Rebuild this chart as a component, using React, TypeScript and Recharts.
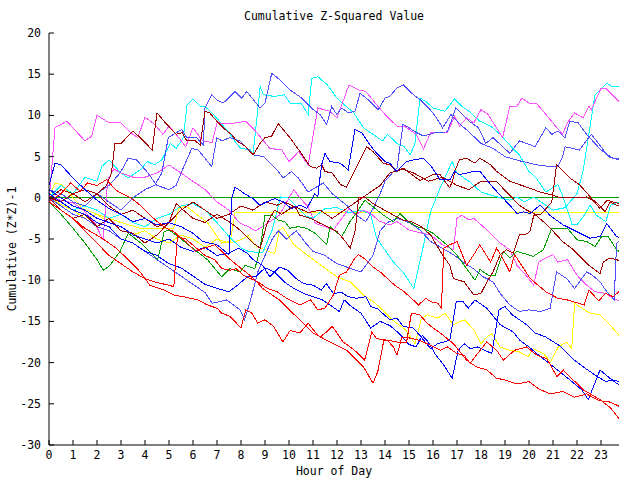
import { LineChart, Line, XAxis, YAxis } from 'recharts';

document.body.style.margin = '0';

type Pt = [number, number];

const hourTicks = [0, 1, 2, 3, 4, 5, 6, 7, 8, 9, 10, 11, 12, 13, 14, 15, 16, 17, 18, 19, 20, 21, 22, 23];
const valueTicks = [-30, -25, -20, -15, -10, -5, 0, 5, 10, 15, 20];

const magA: Pt[] = [[0,-0.5],[0.25,8.5],[0.74,9.3],[1.5,6.9],[1.78,7.5],[2.0,10.0],[2.46,9.2],[3.0,9.1],[3.4,7.9],[3.7,7.3],[4.0,9.8],[4.4,8.9],[4.75,7.7],[5.0,8.7],[5.3,7.7],[5.7,6.2],[6.0,8.5],[6.4,6.9],[6.8,6.7],[7.0,9.1],[7.6,9.0],[8.2,9.3],[8.6,8.1],[9.2,6.0],[9.7,5.8],[10.0,4.4],[10.4,5.6],[10.8,4.0],[11.2,10.9],[11.7,10.5],[12.0,9.7],[12.5,13.7],[12.9,13.1],[13.2,12.9],[13.65,11.3],[14.07,9.9],[14.5,8.7],[14.8,8.7],[15.3,7.7],[15.6,5.9],[15.9,7.9],[16.6,7.9],[16.9,9.9],[17.1,8.7],[17.4,9.7],[17.7,9.1],[18.0,10.7],[18.3,10.1],[18.9,7.3],[19.2,11.1],[19.5,11.1],[19.7,12.1],[20.0,11.5],[20.3,11.5],[21.4,7.7],[21.6,9.1],[21.9,10.3],[22.25,9.7],[22.5,11.1],[22.6,10.7],[23.0,13.3],[23.2,13.3],[23.75,11.7]];

const magB: Pt[] = [[0,0],[0.5,-0.3],[1.0,-0.6],[1.3,-1.2],[1.6,-2.0],[1.9,-3.0],[2.25,-5.1],[2.45,2.2],[2.7,3.5],[3.0,3.0],[3.5,2.5],[4.0,2.5],[4.5,3.0],[5.0,4.0],[5.5,3.0],[6.0,2.0],[6.5,1.0],[7.0,-0.5],[7.5,-1.5],[7.96,-3.1],[8.3,-3.5],[8.6,-4.0],[8.9,-3.5],[9.1,-3.1],[9.6,-2.1],[10.2,1.0],[10.45,0],[10.8,-1.1],[11.1,-3.1],[11.5,-3.5],[11.85,-3.9],[12.1,-2.9],[12.5,-1.3],[12.75,-2.1],[13.1,-1.5],[13.4,-1.9],[13.75,-2.8],[14.2,-3.3],[14.5,-2.9],[15.0,-3.9],[15.4,-4.2],[15.9,-4.5],[16.4,-5.7],[16.85,-6.3],[17.0,-2.5],[17.2,-2.1],[17.5,-2.7],[17.7,-2.5],[18.25,-3.9],[18.8,-5.5],[19.2,-6.3],[19.5,-8.2],[19.9,-9.5],[20.2,-10.6],[20.4,-7.8],[20.7,-7.3],[21.0,-6.9],[21.2,-7.8],[21.6,-7.5],[22.0,-9.4],[22.4,-10.6],[22.75,-11.4],[23.2,-11.6],[23.5,-12.2],[23.75,-12.5]];

const slateA: Pt[] = [[0,1],[0.5,0.5],[1,-0.5],[1.5,-1.0],[2,0.5],[2.5,-0.5],[3,-1.5],[3.5,0],[4,1.0],[4.4,1.5],[4.7,3.0],[4.97,7.3],[5.53,8.3],[5.74,7.3],[6.15,7.3],[6.43,6.4],[6.5,10.9],[6.78,12.5],[6.99,11.9],[7.26,11.5],[7.75,12.9],[8.03,12.1],[8.24,12.9],[8.79,10.9],[9.0,11.5],[9.28,15.1],[9.63,14.3],[10.04,13.1],[10.53,12.1],[11.01,10.7],[11.29,10.1],[11.57,8.9],[11.78,11.1],[11.99,10.1],[12.2,10.9],[12.47,10.3],[12.75,10.5],[12.96,12.7],[13.3,11.9],[13.72,10.7],[14.0,12.1],[14.2,12.3],[14.49,13.3],[14.76,13.7],[15.11,12.7],[15.46,11.9],[15.88,10.7],[16.1,9.9],[16.4,8.5],[16.75,10.1],[17.1,9.0],[17.5,8.0],[18.0,6.6],[18.5,6.0],[19.0,5.0],[19.6,4.5],[20.3,4.0],[20.9,3.8],[21.2,3.8],[21.4,5.0],[21.5,6.2],[21.8,6.0],[22.1,5.8],[22.3,6.6],[22.6,7.7],[23.0,6.2],[23.3,5.0],[23.75,4.6]];

const slateB: Pt[] = [[0,0.5],[0.5,-0.5],[1.0,0.5],[1.5,-0.5],[2.0,0.5],[2.5,1.5],[2.96,3.0],[3.3,4.8],[3.65,4.6],[4.07,3.2],[4.5,1.5],[5.0,1.0],[5.3,1.5],[5.53,3.2],[5.95,6.0],[6.22,5.8],[6.78,3.8],[6.99,7.3],[7.2,6.9],[7.54,7.3],[7.96,6.9],[8.51,5.2],[8.93,5.0],[9.55,3.2],[9.76,2.4],[10.1,3.2],[10.39,2.4],[10.8,0.7],[11.08,1.2],[11.43,1.8],[11.8,0.5],[12.4,-0.9],[12.8,-2.1],[13.2,-2.9],[13.5,-1.3],[13.8,0.5],[14.0,2.0],[14.3,3.0],[14.5,3.6],[14.75,8.9],[14.9,8.7],[15.2,8.1],[15.6,7.5],[16.1,7.9],[16.6,8.0],[16.95,10.9],[17.3,9.9],[17.5,9.3],[17.9,8.5],[18.2,6.6],[18.5,7.3],[19.2,5.4],[19.6,6.9],[19.9,6.6],[20.25,6.2],[20.7,8.5],[20.95,7.7],[21.2,8.1],[21.5,7.3],[21.7,9.3],[22.05,9.1],[22.4,7.7],[23.0,5.8],[23.5,4.8],[23.75,4.8]];

const slateC: Pt[] = [[0,0],[0.5,-1.0],[1,-2.0],[1.5,-2.5],[2,-3.5],[2.5,-4.0],[3,-5.0],[3.5,-5.5],[4,-6.5],[4.5,-7.5],[5,-8.5],[5.5,-9.5],[6,-10.5],[6.5,-11.5],[6.8,-12.8],[7.4,-12.4],[7.96,-13.6],[8.15,-14.8],[8.4,-12.4],[8.7,-9.0],[9.0,-7.0],[9.3,-5.0],[9.55,-4.0],[9.9,-5.0],[10.3,-4.0],[10.7,-5.5],[11.0,-6.5],[11.5,-7.0],[12.0,-8.0],[12.5,-8.5],[13.0,-9.0],[13.5,-7.0],[13.8,-4.0],[14.1,-3.0],[14.5,-2.5],[15.0,-3.0],[15.46,-3.9],[15.9,-5.3],[16.85,-6.9],[17.25,-7.8],[17.68,-8.6],[18.1,-9.6],[18.5,-10.2],[18.8,-11.6],[19.2,-13.0],[19.6,-13.8],[20.0,-13.6],[20.5,-13.8],[20.88,-13.4],[21.15,-9.0],[21.57,-9.8],[21.9,-11.0],[22.4,-9.0],[22.6,-9.3],[22.96,-10.2],[23.24,-11.4],[23.45,-12.0],[23.55,-12.4],[23.65,-5.5],[23.75,-5.3]];

const cyanA: Pt[] = [[0,0],[0.5,1.5],[1,0.5],[1.5,2.5],[2.0,2.0],[2.2,3.8],[2.5,4.6],[3.0,3.0],[3.3,2.4],[3.8,3.4],[4.1,4.4],[4.4,4.0],[4.7,4.6],[5.05,6.6],[5.3,6.0],[5.6,7.3],[5.75,11.3],[6.0,12.0],[6.3,11.1],[6.5,11.1],[6.85,10.1],[7.1,9.3],[7.55,7.7],[7.8,6.6],[8.0,6.0],[8.4,5.8],[8.5,5.2],[8.8,13.5],[8.93,12.5],[9.4,12.3],[9.8,12.5],[10.05,11.5],[10.5,11.5],[10.8,10.1],[10.95,14.5],[11.2,14.7],[11.6,13.7],[12.0,12.1],[12.3,11.3],[12.7,10.3],[13.1,8.5],[13.5,7.7],[13.9,6.9],[14.1,7.7],[14.5,6.6],[14.8,6.2],[15.05,5.2],[15.25,6.6],[15.46,12.1],[15.7,11.7],[16.0,10.9],[16.5,10.5],[16.9,12.0],[17.2,11.1],[17.5,10.5],[17.95,9.3],[18.4,8.7],[18.8,7.7],[19.2,6.4],[19.6,5.2],[20.0,3.2],[20.3,2.4],[20.7,0.7],[21.2,1.6],[21.4,0.3],[21.8,-3.3],[22.0,-3.3],[22.3,-2.1],[22.55,-0.9],[22.8,-2.1],[23.2,-2.9],[23.4,-0.9],[23.75,-0.5]];

const cyanB: Pt[] = [[0,0],[0.5,-0.5],[1,-1.5],[1.5,-1],[2,-1.5],[2.5,-2.5],[3,-2],[3.5,-3],[4,-3.5],[4.5,-2.5],[5,-2],[5.5,-1],[6,-0.7],[6.5,-1.5],[7,-3],[7.5,-4.7],[8.0,-6.1],[8.3,-6.5],[8.9,-6.7],[9.3,-3.9],[9.65,0.1],[9.95,0],[10.3,-1.0],[10.7,-2.2],[11.0,-2.5],[11.5,-1.3],[12.0,-1.2],[12.5,-1.8],[13.0,-1.5],[13.4,-2.0],[13.65,-4.9],[14.35,-7.8],[14.75,-9.0],[15.2,-11.0],[15.55,-6.5],[15.9,-1.7],[16.3,1.2],[16.8,4.4],[17.0,3.0],[17.5,2.0],[18.0,0.7],[18.8,0],[19.2,-0.3],[19.5,0.1],[19.8,-0.5],[20.2,0.1],[20.5,-0.5],[21.0,-1.5],[21.5,-1.2],[22.0,0.5],[22.25,3.2],[22.75,12.5],[23.24,13.9],[23.45,13.5],[23.75,13.5]];

const dredA: Pt[] = [[0,0],[0.5,-0.5],[1,0.5],[1.5,1.0],[2,0.5],[2.4,1.5],[2.6,3.0],[2.75,6.6],[3.0,6.6],[3.5,8.1],[3.8,7.3],[4.3,5.8],[4.5,10.3],[4.85,9.1],[5.3,7.7],[5.55,7.9],[5.74,6.9],[6.1,6.9],[6.3,6.4],[6.5,10.5],[6.7,10.3],[6.99,9.3],[7.33,8.3],[7.6,7.7],[7.82,6.9],[8.0,6.6],[8.2,6.2],[8.51,5.2],[8.79,6.6],[9.0,7.3],[9.28,7.5],[9.55,9.0],[10.04,7.3],[10.46,5.6],[10.88,3.8],[11.15,3.6],[11.36,4.0],[11.5,3.2],[11.8,3.0],[12.15,1.6],[12.4,1.3],[12.85,4.0],[13.24,6.2],[13.5,5.6],[13.93,4.2],[14.2,4.0],[14.49,3.2],[14.76,3.6],[15.46,2.1],[16.0,2.8],[16.3,2.8],[16.7,1.2],[16.85,2.4],[16.9,3.2],[17.1,4.6],[17.4,4.8],[17.75,4.2],[17.96,4.8],[18.4,4.0],[18.65,3.2],[19.2,2.0],[19.6,1.6],[20.0,1.2],[20.46,0.7],[21.0,0.3],[21.3,0],[22.4,0.1],[22.8,-0.5],[23.17,-1.7],[23.37,-0.5],[23.65,-0.9],[23.75,-0.9]];

const dredB: Pt[] = [[0,0],[0.5,1.0],[1.0,0.5],[1.5,-0.5],[2,0.5],[2.5,-1.0],[3,-2.0],[3.5,-1.5],[4,-2.5],[4.5,-3.5],[5,-3.0],[5.5,-1.5],[6,-0.5],[6.5,-1.5],[7.0,-2.5],[7.5,-2.0],[8.0,-1.0],[8.5,-1.5],[9.0,-0.5],[9.5,-0.9],[9.8,-0.5],[10.25,-1.1],[10.45,-2.1],[10.9,-2.5],[11.3,-3.1],[11.6,-3.5],[12.0,-4.1],[12.35,-5.3],[12.55,-6.1],[12.75,-4.1],[12.82,-2.3],[12.9,0],[13.2,0],[13.5,-0.7],[13.86,-1.3],[14.35,-2.1],[14.76,-2.7],[15.1,-2.9],[15.5,-3.5],[15.9,-4.5],[16.3,-6.5],[16.7,-8.2],[16.85,-9.8],[17.3,-10.2],[17.7,-11.8],[18.0,-11.6],[18.25,-10.2],[18.5,-9.0],[18.8,-6.9],[19.06,-6.3],[19.35,-6.7],[19.6,-4.5],[19.83,-4.5],[20.04,-4.1],[20.2,-2.1],[20.5,-2.0],[20.95,-0.5],[21.15,4.0],[21.7,2.4],[22.1,1.6],[22.5,0.3],[22.95,-1.3],[23.25,-0.3],[23.5,-0.5],[23.75,-0.7]];

const dredC: Pt[] = [[0,0],[0.5,-1.5],[1,-2.5],[1.5,-2.0],[2,-3.5],[2.5,-2.5],[3,-4.0],[3.5,-4.3],[4,-5.5],[4.5,-4.5],[5,-3.0],[5.3,-0.7],[5.6,-1.5],[6,-2.5],[6.5,-3.0],[7.0,-2.0],[7.5,-2.9],[8.0,-4.0],[8.5,-5.5],[8.8,-6.1],[9.1,-3.0],[9.4,-1.5],[9.7,-2.0],[10.2,-1.0],[10.8,-1.8],[11.3,-1.5],[11.8,-2.5],[12.3,-1.5],[12.8,-0.5],[13.3,0.5],[13.8,1.5],[14.2,3.0],[14.7,3.5],[15.2,3.0],[15.8,2.0],[16.4,2.5],[17.0,1.5],[17.5,1.0],[18.0,2.0],[18.65,2.0],[19.06,0.7],[19.6,-0.9],[19.9,-1.5],[20.2,-1.9],[20.6,-2.9],[20.95,-3.9],[21.4,-5.3],[21.85,-6.3],[22.26,-7.5],[22.5,-8.2],[22.96,-9.2],[23.1,-7.8],[23.37,-7.3],[23.75,-7.6]];

const blueA: Pt[] = [[0,1.5],[0.25,4.2],[0.5,4.0],[0.75,3.2],[1.0,2.4],[1.5,1.0],[2.0,-0.3],[2.5,-1.3],[3.0,-2.0],[3.5,-2.9],[4.0,-2.5],[4.5,-3.3],[5.0,-3.0],[5.5,-3.5],[6.0,-4.3],[6.4,-5.3],[7.0,-5.7],[7.5,-6.9],[7.62,0],[7.75,1.3],[8.15,0.5],[8.5,-0.1],[8.79,-0.9],[9.07,-0.5],[9.4,-0.1],[9.76,-0.5],[10.1,-1.3],[10.46,-0.9],[10.74,-1.3],[11.08,0.5],[11.2,0.1],[11.29,2.4],[11.36,4.0],[11.5,5.4],[11.7,4.4],[12.13,4.2],[12.47,3.4],[12.75,8.3],[13.03,7.9],[13.38,6.4],[13.65,5.4],[14.0,4.4],[14.2,4.2],[14.49,3.2],[14.9,4.4],[15.18,4.6],[15.6,4.8],[15.88,4.0],[16.3,2.2],[16.71,2.2],[16.9,3.2],[17.1,2.8],[17.68,3.2],[17.96,3.2],[18.4,1.6],[18.8,0.3],[19.2,-0.9],[19.5,-1.9],[19.77,-1.7],[20.04,-1.9],[20.46,-0.9],[20.9,-2.2],[21.43,-3.3],[21.85,-3.9],[22.26,-4.5],[22.54,-4.9],[22.96,-4.7],[23.24,-3.1],[23.65,-4.7],[23.75,-4.8]];

const blueB: Pt[] = [[0,1],[0.5,0.0],[1,-1.0],[1.5,-1.5],[2,-2.5],[2.5,-3.0],[3,-3.5],[3.5,-4.5],[4,-5.0],[4.5,-5.5],[5,-5.0],[5.5,-6.0],[6,-6.5],[6.5,-6.0],[7,-7.0],[7.5,-6.7],[7.9,-6.1],[8.25,-6.7],[8.5,-7.5],[8.9,-8.2],[9.2,-9.6],[9.6,-8.4],[9.95,-8.8],[10.3,-9.8],[10.6,-10.4],[11.0,-10.6],[11.35,-11.2],[11.55,-10.4],[11.85,-11.6],[12.2,-11.5],[12.47,-12.0],[12.8,-12.2],[13.2,-12.0],[13.4,-13.2],[13.7,-13.5],[14.2,-14.8],[14.5,-14.6],[14.76,-15.6],[15.18,-15.8],[15.45,-16.7],[15.9,-18.3],[16.2,-17.7],[16.7,-17.3],[16.97,-12.6],[17.25,-12.6],[17.47,-13.4],[17.75,-12.4],[18.24,-13.4],[18.8,-15.4],[19.35,-16.3],[19.62,-17.3],[20.0,-18.1],[20.32,-18.9],[21.02,-20.5],[21.7,-22.1],[22.2,-23.3],[22.47,-24.5],[22.96,-20.9],[23.45,-22.1],[23.75,-22.7]];

const blueC: Pt[] = [[0,0.5],[0.5,-0.5],[1,-1.5],[1.5,-2.0],[2,-3.0],[2.5,-3.5],[3,-5.0],[3.5,-5.5],[4,-6.5],[4.5,-7.0],[5,-8.0],[5.5,-8.5],[6,-9.5],[6.5,-10.5],[7.0,-11.0],[7.5,-11.4],[7.9,-10.5],[8.3,-9.5],[8.6,-9.6],[9.0,-8.5],[9.4,-9.0],[9.8,-10.2],[10.2,-11.0],[10.6,-11.6],[11.0,-12.0],[11.4,-12.4],[11.7,-13.0],[12.1,-13.8],[12.3,-12.4],[12.6,-13.2],[13.0,-14.0],[13.4,-15.8],[13.8,-15.0],[14.2,-15.5],[14.6,-16.5],[15.0,-17.8],[15.3,-18.1],[15.55,-16.7],[15.8,-17.5],[16.1,-19.0],[16.45,-20.3],[16.8,-21.9],[17.05,-18.5],[17.3,-17.7],[17.55,-18.3],[17.85,-18.1],[18.45,-18.9],[18.75,-13.6],[19.0,-13.2],[19.3,-14.2],[19.6,-14.8],[19.9,-15.4],[20.25,-16.4],[20.7,-16.9],[21.3,-18.0],[21.8,-19.5],[22.3,-20.6],[22.8,-21.6],[23.2,-22.3],[23.5,-22.1],[23.75,-22.3]];

const redA: Pt[] = [[0,-0.5],[0.5,0.5],[0.9,1.8],[1.3,0.8],[1.6,1.8],[2.0,1.5],[2.4,2.2],[2.8,0.9],[3.4,0],[3.8,-0.9],[4.2,-2.1],[4.6,-3.1],[4.9,-3.7],[5.2,-4.1],[5.5,-4.9],[5.7,-5.3],[6.1,-6.5],[6.9,-5.7],[7.2,-6.5],[7.55,-7.5],[7.8,-8.1],[8.2,-9.0],[8.6,-10.0],[8.9,-11.0],[9.3,-11.8],[9.6,-12.4],[10.3,-14.4],[11.0,-16.4],[11.7,-17.5],[12.4,-18.5],[13.1,-20.5],[13.5,-22.5],[13.7,-21.1],[13.95,-17.3],[14.1,-17.3],[14.35,-18.1],[14.5,-19.1],[14.7,-16.9],[15.0,-17.0],[15.45,-17.3],[15.9,-17.9],[16.3,-18.5],[16.6,-18.1],[17.0,-18.9],[17.3,-19.1],[17.55,-20.1],[17.75,-19.3],[18.24,-17.5],[18.65,-18.5],[18.93,-19.7],[19.4,-18.5],[19.9,-18.1],[20.33,-19.1],[20.74,-19.5],[21.16,-21.7],[21.43,-20.9],[21.7,-21.7],[22.26,-23.3],[22.96,-24.5],[23.4,-25.5],[23.75,-26.8]];

const redB: Pt[] = [[0,-0.5],[0.5,-1.5],[1,-2.5],[1.5,-3.7],[2.2,-4.9],[2.8,-6.1],[3.4,-7.8],[3.8,-9.0],[4.2,-10.6],[4.8,-11.2],[5.2,-11.8],[5.6,-12.0],[6.2,-12.4],[6.6,-13.0],[7.0,-13.4],[7.2,-14.0],[7.55,-14.4],[8.0,-15.8],[8.2,-13.6],[8.45,-14.0],[8.7,-15.2],[9.0,-14.8],[9.35,-15.6],[9.75,-17.5],[10.05,-16.1],[10.45,-16.4],[10.8,-15.2],[11.0,-16.0],[11.3,-16.9],[11.55,-16.3],[11.8,-15.6],[12.0,-16.4],[12.25,-17.5],[12.55,-18.1],[12.8,-18.7],[13.15,-19.7],[13.45,-16.3],[13.65,-17.1],[13.95,-17.2],[14.5,-17.5],[14.9,-17.5],[15.1,-14.0],[15.45,-14.2],[15.75,-15.2],[16.0,-15.8],[16.3,-16.4],[16.85,-17.7],[17.4,-19.7],[17.8,-20.5],[18.25,-20.9],[18.65,-21.9],[19.0,-22.1],[19.5,-22.6],[20.0,-22.3],[20.4,-23.2],[20.9,-23.8],[21.4,-23.5],[21.9,-24.2],[22.4,-23.8],[22.9,-24.6],[23.4,-24.8],[23.75,-25.3]];

const redC: Pt[] = [[0,-0.5],[0.5,-1.5],[1,-2.5],[1.5,-4],[2,-5.5],[2.5,-7],[3,-8],[3.5,-9],[4,-9.8],[4.5,-10.3],[5.0,-10.6],[5.2,-10.8],[5.35,-4.7],[5.7,-5.0],[6.1,-6.0],[6.5,-7.0],[6.9,-7.5],[7.2,-8.6],[7.55,-8.8],[7.8,-8.6],[8.1,-9.4],[8.7,-10.2],[9.1,-11.0],[9.5,-11.4],[9.9,-12.2],[10.45,-13.0],[10.9,-12.4],[11.2,-13.6],[11.5,-13.4],[11.85,-11.8],[12.1,-9.4],[12.4,-9.0],[12.75,-7.3],[12.9,-6.9],[13.2,-7.5],[13.5,-8.4],[13.8,-9.0],[14.1,-9.8],[14.4,-10.6],[14.8,-11.4],[15.1,-12.2],[15.4,-13.0],[15.7,-12.2],[15.9,-12.6],[16.2,-12.8],[16.35,-13.4],[16.45,-6.1],[16.7,-5.7],[17.0,-5.3],[17.4,-8.2],[17.7,-6.9],[17.95,-5.7],[18.4,-7.8],[18.65,-6.1],[18.9,-7.3],[19.2,-9.0],[19.4,-6.9],[20.05,-9.8],[20.7,-11.4],[21.2,-12.2],[21.6,-12.4],[22.3,-13.0],[22.5,-11.2],[22.9,-12.5],[23.2,-11.6],[23.5,-12.0],[23.75,-11.4]];

const greenA: Pt[] = [[0,-0.5],[0.5,-2.0],[1.0,-3.7],[1.5,-5.5],[2.0,-7.5],[2.26,-8.8],[2.54,-8.2],[2.96,-6.5],[3.3,-4.3],[3.83,-5.5],[4.53,-7.5],[4.8,-4.1],[5.01,-3.9],[5.5,-5.0],[6.15,-6.5],[6.6,-7.5],[7.2,-9.6],[7.54,-8.6],[7.96,-9.0],[8.17,-8.2],[8.58,-8.6],[8.79,-6.3],[9.0,-2.1],[9.28,-2.1],[9.55,-2.7],[9.83,-2.9],[10.04,-3.7],[10.39,-3.5],[10.74,-3.7],[11.08,-4.3],[11.57,-5.7],[11.71,-3.5],[12.2,-4.7],[12.54,-2.9],[12.89,-1.5],[13.16,-0.3],[13.51,-1.1],[13.93,-2.1],[14.35,-2.9],[14.63,-1.9],[14.9,-2.7],[15.32,-3.5],[15.6,-3.7],[16.0,-4.3],[16.57,-5.7],[16.99,-6.9],[17.4,-8.6],[17.75,-10.0],[17.96,-8.7],[18.3,-9.4],[18.6,-9.4],[18.93,-6.5],[19.2,-7.3],[19.49,-6.5],[20.18,-7.1],[20.6,-6.3],[20.95,-3.7],[21.6,-3.7],[22.0,-5.1],[22.4,-5.3],[22.75,-5.9],[23.03,-4.7],[23.3,-4.7],[23.65,-6.3],[23.75,-6.5]];

const greenFlat: Pt[] = [[0,0],[23.75,0]];

const yellowA: Pt[] = [[0,0],[0.25,1.8],[0.5,1.6],[0.75,0.9],[1.0,0],[1.4,-1.3],[2.0,-2.0],[2.5,-2.5],[3.0,-3.0],[3.8,-3.7],[5.2,-3.7],[5.4,-1.3],[5.7,-1.0],[6.2,-2.1],[6.6,-3.0],[7.2,-5.5],[7.55,-5.3],[7.75,-1.8],[23.75,-1.8]];

const yellowB: Pt[] = [[0,0],[0.5,-0.8],[1,-1.5],[1.5,-2.5],[2,-2.0],[2.5,-3.0],[3,-3.5],[3.5,-4.5],[4,-4.0],[4.5,-5.0],[5,-5.5],[5.5,-4.5],[6,-5.0],[6.5,-6.0],[7.0,-5.0],[7.5,-5.5],[7.9,-5.2],[8.3,-4.6],[8.6,-5.8],[9.0,-6.3],[9.4,-6.8],[9.6,-3.9],[9.75,-3.6],[10.2,-5.7],[11.15,-7.8],[12.0,-9.6],[12.55,-10.2],[13.1,-11.8],[13.6,-12.8],[13.9,-13.6],[14.3,-14.8],[14.85,-16.0],[15.25,-17.7],[15.5,-14.8],[15.75,-14.2],[16.2,-14.6],[16.5,-14.0],[16.85,-15.4],[17.3,-14.8],[17.7,-16.0],[18.0,-17.7],[18.24,-16.9],[18.45,-16.5],[18.8,-18.1],[19.2,-18.5],[19.6,-18.7],[19.97,-19.3],[20.18,-18.3],[20.6,-18.9],[20.9,-19.9],[21.22,-18.1],[21.57,-17.5],[21.78,-18.3],[21.9,-12.8],[22.1,-13.2],[22.54,-14.0],[22.96,-14.2],[23.37,-15.4],[23.75,-16.7]];

const series: { name: string; color: string; pts: Pt[] }[] = [
  { name: 'greenFlat', color: '#00a000', pts: greenFlat },
  { name: 'yellowA', color: '#ffff00', pts: yellowA },
  { name: 'yellowB', color: '#ffff00', pts: yellowB },
  { name: 'cyanB', color: '#00ffff', pts: cyanB },
  { name: 'cyanA', color: '#00ffff', pts: cyanA },
  { name: 'magB', color: '#ff50ff', pts: magB },
  { name: 'magA', color: '#ff50ff', pts: magA },
  { name: 'slateC', color: '#5050ff', pts: slateC },
  { name: 'slateB', color: '#5050ff', pts: slateB },
  { name: 'slateA', color: '#5050ff', pts: slateA },
  { name: 'greenA', color: '#00a000', pts: greenA },
  { name: 'dredC', color: '#a00000', pts: dredC },
  { name: 'dredB', color: '#a00000', pts: dredB },
  { name: 'dredA', color: '#a00000', pts: dredA },
  { name: 'blueC', color: '#0000ff', pts: blueC },
  { name: 'blueB', color: '#0000ff', pts: blueB },
  { name: 'blueA', color: '#0000ff', pts: blueA },
  { name: 'redC', color: '#ff0000', pts: redC },
  { name: 'redB', color: '#ff0000', pts: redB },
  { name: 'redA', color: '#ff0000', pts: redA },
];

const font = '"DejaVu Sans Mono", monospace';
const tickStyle = { fill: '#000', fontSize: 11.5, fontFamily: font };

export default function App() {
  return (
    <div style={{ position: 'relative', width: 640, height: 480, background: '#fff', fontFamily: font }}>
      <style>{'.recharts-line path { shape-rendering: crispEdges; }'}</style>
      <div style={{ position: 'absolute', top: 10, left: 0, width: 668, textAlign: 'center', fontSize: 11.5, lineHeight: '12px' }}>
        Cumulative Z-Squared Value
      </div>
      <div style={{ position: 'absolute', top: 465, left: 0, width: 668, textAlign: 'center', fontSize: 11.5, lineHeight: '12px' }}>
        Hour of Day
      </div>
      <div
        style={{
          position: 'absolute', left: 12, top: 249, width: 200, marginLeft: -100, marginTop: -6,
          textAlign: 'center', fontSize: 11.5, lineHeight: '12px', transform: 'rotate(-90deg)',
        }}
      >
        Cumulative (Z*Z)-1
      </div>
      <LineChart width={640} height={480} margin={{ top: 33, right: 21, bottom: 5, left: 5 }}>
        <XAxis
          dataKey="h" type="number" domain={[0, 23.75]} ticks={hourTicks} interval={0}
          allowDataOverflow height={30} tickSize={-5} tickMargin={11}
          stroke="#000" tick={tickStyle}
        />
        <XAxis
          xAxisId="top" orientation="top" dataKey="h" type="number" domain={[0, 23.75]}
          ticks={hourTicks} interval={0} allowDataOverflow height={0} tickSize={-5}
          stroke="#000" tick={false}
        />
        <YAxis
          dataKey="v" type="number" domain={[-30, 20]} ticks={valueTicks} interval={0}
          allowDataOverflow width={44} tickSize={-5} tickMargin={13}
          stroke="#000" tick={tickStyle}
        />
        <YAxis
          yAxisId="right" orientation="right" type="number" domain={[-30, 20]} ticks={valueTicks}
          interval={0} allowDataOverflow width={0} tickSize={-5} stroke="#000" tick={false}
        />
        {series.map((s) => (
          <Line
            key={s.name}
            data={s.pts.map(([h, v]) => ({ h, v }))}
            dataKey="v"
            type="linear"
            stroke={s.color}
            strokeWidth={1}
            dot={false}
            activeDot={false}
            isAnimationActive={false}
          />
        ))}
      </LineChart>
    </div>
  );
}
